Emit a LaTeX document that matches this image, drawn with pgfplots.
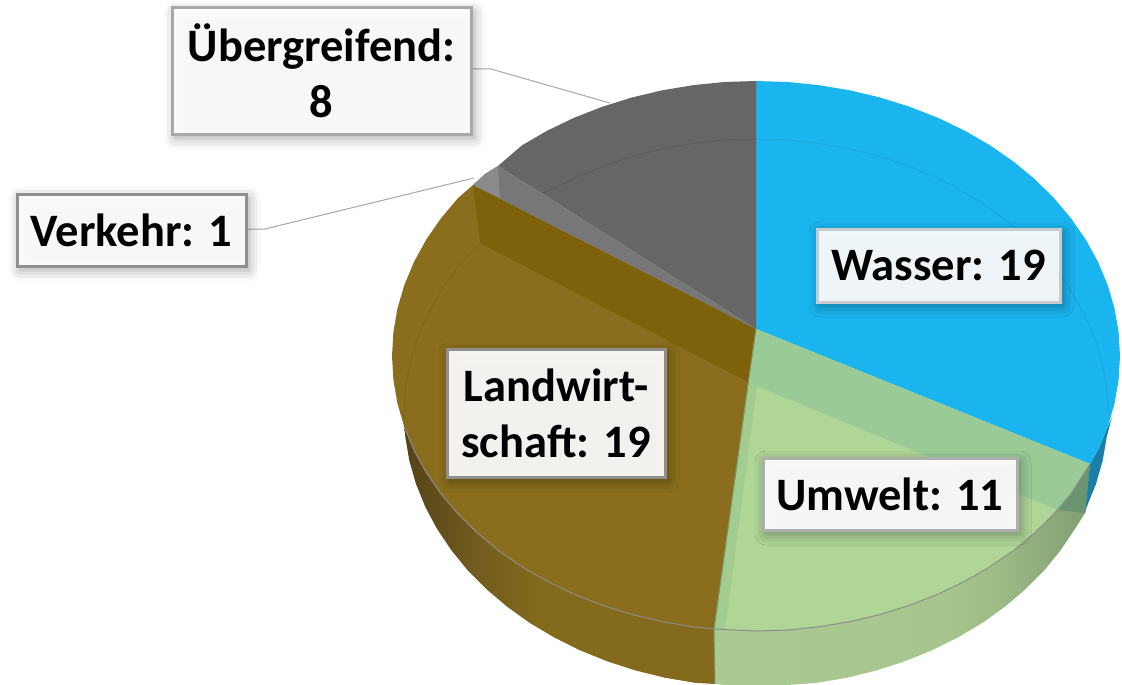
\documentclass[border=0pt]{standalone}
\usepackage{pgfplots}
\pgfplotsset{compat=1.18}
\usepackage{fontspec}
\setmainfont{Carlito}
\usetikzlibrary{shadows.blur}
\definecolor{cBlue}{HTML}{1AB4EE}
\definecolor{cBlueS}{HTML}{1C7FA8}
\definecolor{cGrey}{HTML}{666666}
\definecolor{cVerk}{HTML}{777777}
\definecolor{cVerkL}{HTML}{8A8A8A}
\definecolor{cBrown}{HTML}{8A6E1D}
\definecolor{cBrownD}{HTML}{7E610B}
\definecolor{cGreen}{HTML}{AFD597}
\definecolor{cGreenD}{HTML}{9ACB97}
\definecolor{cGreenL}{HTML}{A2CC90}
\definecolor{cWedge}{HTML}{6B9470}
\definecolor{cLead}{HTML}{A6A6A6}
\definecolor{bA}{HTML}{544318}
\definecolor{bB}{HTML}{735C1E}
\definecolor{bC}{HTML}{846A1C}
\definecolor{gA}{HTML}{A9CA90}
\definecolor{gB}{HTML}{A6C68D}
\definecolor{gC}{HTML}{9DBC86}
\definecolor{gD}{HTML}{8CA97A}
\definecolor{gE}{HTML}{7F9E72}
\pgfdeclarehorizontalshading{brownside}{100bp}{color(0bp)=(bA); color(25bp)=(bA); color(37bp)=(bB); color(47bp)=(bC); color(100bp)=(bC)}
\pgfdeclarehorizontalshading{greenside}{100bp}{color(0bp)=(gA); color(25bp)=(gA); color(55bp)=(gB); color(62.5bp)=(gC); color(70bp)=(gD); color(75bp)=(gE); color(100bp)=(gE)}
\tikzset{lab/.style={draw=#1,line width=3pt,fill=white,fill opacity=0.93,text opacity=1,draw opacity=1,
  blur shadow={shadow xshift=3pt,shadow yshift=-4pt,shadow blur radius=11pt,shadow opacity=40},
  align=center,inner sep=0pt,font=\fontsize{46.5}{56}\selectfont\bfseries,text=black}}
\definecolor{bdA}{HTML}{A8A8A8}
\definecolor{bdB}{HTML}{8F8F8F}
\definecolor{bdC}{HTML}{C8CCCE}
\definecolor{bdD}{HTML}{ADADAD}
\begin{document}
\begin{tikzpicture}
\begin{axis}[at={(0,0)},anchor=south west,scale only axis,width=1122pt,height=685pt,
  xmin=0,xmax=1122,ymin=0,ymax=685,y dir=reverse,hide axis,clip=false,no markers]
% side: brown
\addplot[draw=none,shading=brownside] coordinates {
(404.4,427.2)(414,450.1)(426.1,472.2)(440.8,493.5)(457.8,513.7)(477.2,532.8)(498.6,550.5)(522,566.7)(547.2,581.3)(574,594.2)(602.2,605.2)(631.5,614.4)(661.8,621.6)(692.8,626.8)(714,629)
(715,684)(694.9,682.8)(664.9,677.7)(635.6,670.5)(607.2,661.3)(580,650.3)(554.1,637.4)(529.7,622.9)(507.1,606.7)(486.4,589.1)(467.6,570.2)(451.2,550)(437,528.8)(425.2,506.7)(416,483.9)(409.3,460.6)(405.3,436.9)} -- cycle;
% side: green
\addplot[draw=none,shading=greenside] coordinates {
(714,629)(756,631)(787.7,630)(819.2,626.8)(850.2,621.6)(880.5,614.4)(909.8,605.2)(938,594.2)(964.8,581.3)(990,566.7)(1013.4,550.5)(1034.8,532.8)(1054.2,513.7)(1071.2,493.5)(1090,464)
(1085,513)(1075,528.8)(1060.8,550)(1044.4,570.2)(1025.6,589.1)(1004.9,606.7)(982.3,622.9)(957.9,637.4)(932,650.3)(904.8,661.3)(876.4,670.5)(847.1,677.7)(817.1,682.8)(786.7,685)(756,685)(725.3,685)(715,684)} -- cycle;
\addplot[draw=none,fill=cWedge] coordinates {(1090,464)(1071.2,493.5)(1058,510)(1085,513)} -- cycle;
% side: blue
\addplot[draw=none,fill=cBlueS] coordinates {(1112,417)(1107.6,427.2)(1098,450.1)(1090,464)(1085,513)(1086.8,506.7)(1096,483.9)(1102.7,460.6)(1106.7,436.9)} -- cycle;
% top: Wasser
\addplot[draw=none,fill=cBlue] coordinates {(756,329)(756,81)(787.7,82)(819.2,85.2)(850.2,90.4)(880.5,97.6)(909.8,106.8)(938,117.8)(964.8,130.7)(990,145.3)(1013.4,161.5)(1034.8,179.2)(1054.2,198.3)(1071.2,218.5)(1085.9,239.8)(1098,261.9)(1107.6,284.8)(1114.5,308.3)(1118.6,332)(1120,356)(1118.6,380)(1114.5,403.7)(1107.6,427.2)(1098,450.1)(1090,464)} -- cycle;
% top: Umwelt
\addplot[draw=none,fill=cGreen] coordinates {(756,329)(1090,464)(1071.2,493.5)(1054.2,513.7)(1034.8,532.8)(1013.4,550.5)(990,566.7)(964.8,581.3)(938,594.2)(909.8,605.2)(880.5,614.4)(850.2,621.6)(819.2,626.8)(787.7,630)(756,631)(714,629)} -- cycle;
\addplot[draw=none,fill=cGreenD] coordinates {(756,329)(1090,464)(1071.2,493.5)(1058,510)(757,386)(748,384)} -- cycle;
\addplot[draw=none,fill=cGreenL] coordinates {(748,384)(757,386)(725,630)(714,629)} -- cycle;
% top: Landwirtschaft
\addplot[draw=none,fill=cBrown] coordinates {(756,329)(473,185)(457.8,198.3)(440.8,218.5)(426.1,239.8)(414,261.9)(404.4,284.8)(397.5,308.3)(393.4,332)(392,356)(393.4,380)(397.5,403.7)(404.4,427.2)(414,450.1)(426.1,472.2)(440.8,493.5)(457.8,513.7)(477.2,532.8)(498.6,550.5)(522,566.7)(547.2,581.3)(574,594.2)(602.2,605.2)(631.5,614.4)(661.8,621.6)(692.8,626.8)(714,629)} -- cycle;
\addplot[draw=none,fill=cBrownD] coordinates {(756,329)(473,185)(480,243)(748,382)} -- cycle;
% top: Uebergreifend
\addplot[draw=none,fill=cGrey] coordinates {(756,329)(756,81)(724.3,82)(692.8,85.2)(661.8,90.4)(631.5,97.6)(602.2,106.8)(574,117.8)(547.2,130.7)(522,145.3)(498,166)} -- cycle;
% top: Verkehr
\addplot[draw=none,fill=cVerk] coordinates {(756,329)(498,166)(485,174)(473,185)} -- cycle;
\addplot[draw=none,fill=cVerkL] coordinates {(498,166)(485,174)(473,185)(500,198)} -- cycle;
% faint inner arcs
\addplot[line width=0.8pt,color=black!8!cBlue] coordinates {(756,139)(786.7,140)(817.1,143.2)(847.1,148.3)(876.4,155.5)(904.8,164.7)(932,175.7)(957.9,188.6)(982.3,203.1)(1004.9,219.3)(1025.6,236.9)(1044.4,255.8)(1060.8,276)(1075,297.2)(1086.8,319.3)(1096,342.1)(1102.7,365.4)(1106.7,389.1)(1108,413)};
\addplot[line width=0.8pt,color=black!8!cBrown] coordinates {(480,243)(467.6,255.8)(451.2,276)(437,297.2)(425.2,319.3)(416,342.1)(409.3,365.4)(405.3,389.1)(404,413)(404.4,427.2)};
\addplot[line width=0.8pt,color=black!12!cGrey] coordinates {(756,139)(724.9,140)(694.9,143.2)(664.9,148.3)(635.6,155.5)(607.2,164.7)(580,175.7)(554.1,188.6)(543,193)};
% rim line
\addplot[line width=1pt,color=black!45!white] coordinates {(404.4,427.2)(414,450.1)(426.1,472.2)(440.8,493.5)(457.8,513.7)(477.2,532.8)(498.6,550.5)(522,566.7)(547.2,581.3)(574,594.2)(602.2,605.2)(631.5,614.4)(661.8,621.6)(692.8,626.8)(714,629)(756,631)(787.7,630)(819.2,626.8)(850.2,621.6)(880.5,614.4)(909.8,605.2)(938,594.2)(964.8,581.3)(990,566.7)(1013.4,550.5)(1034.8,532.8)(1054.2,513.7)(1071.2,493.5)(1090,464)};
\addplot[line width=1pt,color=black!30!cGreen] coordinates {(756,329)(748,384)(714,629)(715,684)};
% leaders
\addplot[line width=1pt,color=cLead] coordinates {(471,69)(491,69)(610,103)};
\addplot[line width=1pt,color=cLead] coordinates {(246,229)(265,229)(474,178)};
% labels
\node[lab=bdA,minimum width=299pt,minimum height=126pt] at (axis cs:321.5,71) {Übergreifend:\\8};
\node[lab=bdB,minimum width=229pt,minimum height=72pt] at (axis cs:131.5,230) {Verkehr: 1};
\node[lab=bdC,minimum width=243pt,minimum height=73pt] at (axis cs:938.5,265.5) {Wasser: 19};
\node[lab=bdD,minimum width=254pt,minimum height=72pt] at (axis cs:890,494) {Umwelt: 11};
\node[lab=bdB,minimum width=218pt,minimum height=128pt] at (axis cs:556,413) {Landwirt-\\schaft: 19};
\end{axis}
\pgfresetboundingbox
\path (0,0) rectangle (1122pt,685pt);
\end{tikzpicture}
\end{document}
